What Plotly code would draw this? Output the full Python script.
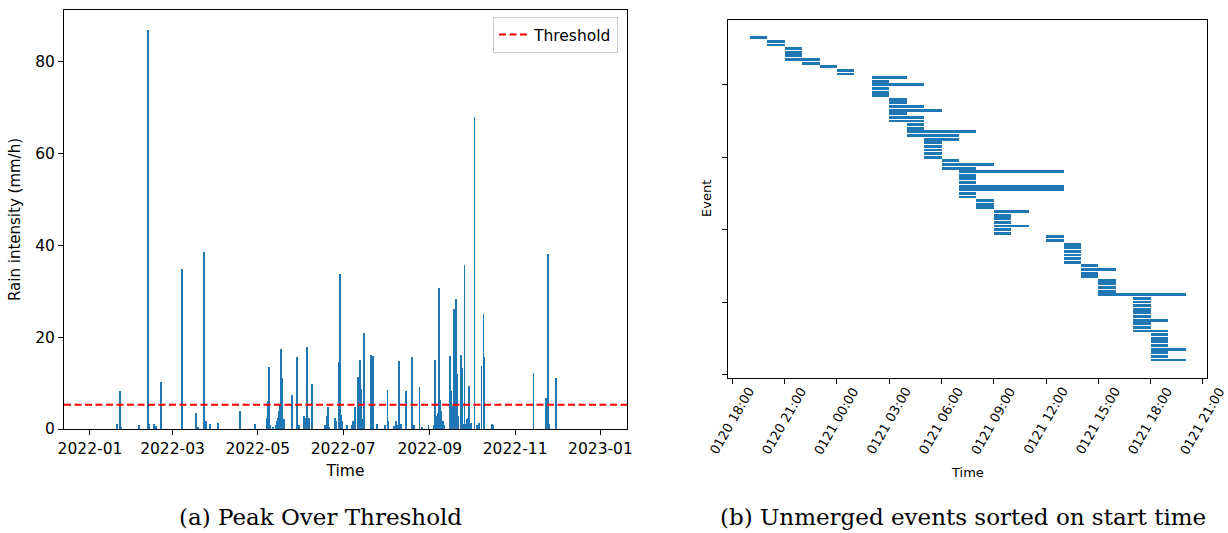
import pandas as pd
import plotly.graph_objects as go

# ---------------- (a) Peak Over Threshold ----------------
rain_times = [
    "2022-01-20 12:00", "2022-01-22 05:00", "2022-01-23 05:00", "2022-02-05 00:00",
    "2022-02-11 12:00", "2022-02-12 05:00", "2022-02-15 14:00", "2022-02-17 00:00",
    "2022-02-20 14:00", "2022-03-07 19:00", "2022-03-18 00:00", "2022-03-19 00:00",
    "2022-03-23 07:00", "2022-03-24 19:00", "2022-03-28 02:00", "2022-04-02 14:00",
    "2022-04-18 07:00", "2022-04-28 19:00", "2022-05-07 10:00", "2022-05-08 02:00",
    "2022-05-08 19:00", "2022-05-09 07:00", "2022-05-09 19:00", "2022-05-12 02:00",
    "2022-05-14 00:00", "2022-05-15 00:00", "2022-05-15 17:00", "2022-05-16 10:00",
    "2022-05-17 02:00", "2022-05-17 10:00", "2022-05-18 02:00", "2022-05-18 19:00",
    "2022-05-19 12:00", "2022-05-25 07:00", "2022-05-29 07:00", "2022-05-30 07:00",
    "2022-06-03 02:00", "2022-06-04 00:00", "2022-06-04 17:00", "2022-06-05 10:00",
    "2022-06-06 17:00", "2022-06-08 19:00", "2022-06-18 02:00", "2022-06-19 17:00",
    "2022-06-20 05:00", "2022-06-20 17:00", "2022-06-25 00:00", "2022-06-25 22:00",
    "2022-06-27 22:00", "2022-06-28 14:00", "2022-06-29 00:00", "2022-06-29 07:00",
    "2022-06-30 00:00", "2022-07-03 14:00", "2022-07-07 05:00", "2022-07-07 22:00",
    "2022-07-09 19:00", "2022-07-11 22:00", "2022-07-13 02:00", "2022-07-13 19:00",
    "2022-07-15 12:00", "2022-07-16 05:00", "2022-07-21 00:00", "2022-07-22 14:00",
    "2022-07-25 02:00", "2022-07-31 00:00", "2022-08-01 17:00", "2022-08-02 10:00",
    "2022-08-06 12:00", "2022-08-07 22:00", "2022-08-08 10:00", "2022-08-10 05:00",
    "2022-08-11 05:00", "2022-08-15 00:00", "2022-08-19 02:00", "2022-08-20 19:00",
    "2022-08-24 14:00", "2022-08-26 07:00", "2022-08-31 00:00", "2022-09-04 02:00",
    "2022-09-04 19:00", "2022-09-05 12:00", "2022-09-06 00:00", "2022-09-06 22:00",
    "2022-09-07 14:00", "2022-09-07 22:00", "2022-09-08 10:00", "2022-09-08 22:00",
    "2022-09-09 14:00", "2022-09-10 07:00", "2022-09-11 05:00", "2022-09-15 07:00",
    "2022-09-16 05:00", "2022-09-17 10:00", "2022-09-17 22:00", "2022-09-18 10:00",
    "2022-09-19 02:00", "2022-09-19 12:00", "2022-09-19 19:00", "2022-09-20 07:00",
    "2022-09-20 19:00", "2022-09-21 07:00", "2022-09-23 05:00", "2022-09-23 14:00",
    "2022-09-24 02:00", "2022-09-25 00:00", "2022-09-25 19:00", "2022-09-26 10:00",
    "2022-09-27 10:00", "2022-09-28 12:00", "2022-09-29 07:00", "2022-09-30 07:00",
    "2022-10-02 22:00", "2022-10-04 17:00", "2022-10-06 02:00", "2022-10-07 22:00",
    "2022-10-09 10:00", "2022-10-10 02:00", "2022-10-15 14:00", "2022-10-16 12:00",
    "2022-11-14 02:00", "2022-11-23 00:00", "2022-11-23 17:00", "2022-11-24 14:00",
    "2022-11-25 14:00", "2022-11-30 07:00",
]
rain_values = [
    1.1, 8.3, 0.5, 0.9,
    86.9, 1.1, 1.1, 0.6,
    10.2, 34.9, 3.5, 0.5,
    38.5, 1.7, 1.1, 1.4,
    4.0, 1.1, 2.3, 6.1,
    13.4, 2.0, 0.8, 0.5,
    0.8, 1.7, 2.4, 3.9,
    5.2, 17.5, 11.2, 1.7,
    2.1, 7.4, 15.6, 0.8,
    2.8, 2.1, 2.5, 17.8,
    2.5, 9.9, 0.8, 2.8,
    4.8, 0.5, 2.5, 1.7,
    14.6, 2.5, 33.8, 3.0,
    1.7, 0.8, 0.8, 1.7,
    4.8, 11.4, 15.1, 8.8,
    2.1, 20.8, 16.1, 15.8,
    1.0, 0.8, 8.5, 1.7,
    0.6, 1.7, 0.8, 14.8,
    1.0, 8.3, 15.6, 0.8,
    9.2, 0.5, 0.8, 0.8,
    15.1, 1.7, 2.8, 3.5,
    30.7, 2.1, 6.3, 4.0,
    1.0, 1.7, 0.8, 15.9,
    8.3, 5.0, 3.5, 26.1,
    17.4, 6.5, 28.2, 12.0,
    4.3, 2.8, 16.1, 2.1,
    13.2, 1.0, 35.6, 1.0,
    2.1, 2.5, 9.3, 1.4,
    68.0, 0.8, 1.4, 13.7,
    25.0, 15.6, 1.1, 0.8,
    12.1, 6.7, 3.2, 38.0,
    1.1, 11.0,
]
threshold = 5.3
left_x_range = ["2021-12-13 10:00", "2023-01-20 00:00"]
left_y_range = [0, 91.2]

# ---------------- (b) Unmerged events ----------------
event_starts = [
    "2022-01-20 19:00", "2022-01-20 20:00", "2022-01-20 20:00", "2022-01-20 21:00",
    "2022-01-20 21:00", "2022-01-20 21:00", "2022-01-20 21:00", "2022-01-20 22:00",
    "2022-01-20 23:00", "2022-01-21 00:00", "2022-01-21 00:00", "2022-01-21 02:00",
    "2022-01-21 02:00", "2022-01-21 02:00", "2022-01-21 02:00", "2022-01-21 02:00",
    "2022-01-21 02:00", "2022-01-21 03:00", "2022-01-21 03:00", "2022-01-21 03:00",
    "2022-01-21 03:00", "2022-01-21 03:00", "2022-01-21 03:00", "2022-01-21 03:00",
    "2022-01-21 04:00", "2022-01-21 04:00", "2022-01-21 04:00", "2022-01-21 04:00",
    "2022-01-21 05:00", "2022-01-21 05:00", "2022-01-21 05:00", "2022-01-21 05:00",
    "2022-01-21 05:00", "2022-01-21 05:00", "2022-01-21 06:00", "2022-01-21 06:00",
    "2022-01-21 06:00", "2022-01-21 07:00", "2022-01-21 07:00", "2022-01-21 07:00",
    "2022-01-21 07:00", "2022-01-21 07:00", "2022-01-21 07:00", "2022-01-21 07:00",
    "2022-01-21 07:00", "2022-01-21 08:00", "2022-01-21 08:00", "2022-01-21 08:00",
    "2022-01-21 09:00", "2022-01-21 09:00", "2022-01-21 09:00", "2022-01-21 09:00",
    "2022-01-21 09:00", "2022-01-21 09:00", "2022-01-21 09:00", "2022-01-21 12:00",
    "2022-01-21 12:00", "2022-01-21 13:00", "2022-01-21 13:00", "2022-01-21 13:00",
    "2022-01-21 13:00", "2022-01-21 13:00", "2022-01-21 13:00", "2022-01-21 14:00",
    "2022-01-21 14:00", "2022-01-21 14:00", "2022-01-21 14:00", "2022-01-21 15:00",
    "2022-01-21 15:00", "2022-01-21 15:00", "2022-01-21 15:00", "2022-01-21 15:00",
    "2022-01-21 17:00", "2022-01-21 17:00", "2022-01-21 17:00", "2022-01-21 17:00",
    "2022-01-21 17:00", "2022-01-21 17:00", "2022-01-21 17:00", "2022-01-21 17:00",
    "2022-01-21 17:00", "2022-01-21 17:00", "2022-01-21 18:00", "2022-01-21 18:00",
    "2022-01-21 18:00", "2022-01-21 18:00", "2022-01-21 18:00", "2022-01-21 18:00",
    "2022-01-21 18:00", "2022-01-21 18:00",
]
event_ends = [
    "2022-01-20 20:00", "2022-01-20 21:00", "2022-01-20 21:00", "2022-01-20 22:00",
    "2022-01-20 22:00", "2022-01-20 22:00", "2022-01-20 23:00", "2022-01-20 23:00",
    "2022-01-21 00:00", "2022-01-21 01:00", "2022-01-21 01:00", "2022-01-21 04:00",
    "2022-01-21 03:00", "2022-01-21 05:00", "2022-01-21 03:00", "2022-01-21 03:00",
    "2022-01-21 03:00", "2022-01-21 04:00", "2022-01-21 04:00", "2022-01-21 05:00",
    "2022-01-21 06:00", "2022-01-21 04:00", "2022-01-21 05:00", "2022-01-21 05:00",
    "2022-01-21 05:00", "2022-01-21 05:00", "2022-01-21 08:00", "2022-01-21 07:00",
    "2022-01-21 07:00", "2022-01-21 06:00", "2022-01-21 06:00", "2022-01-21 06:00",
    "2022-01-21 06:00", "2022-01-21 06:00", "2022-01-21 07:00", "2022-01-21 09:00",
    "2022-01-21 08:00", "2022-01-21 13:00", "2022-01-21 08:00", "2022-01-21 08:00",
    "2022-01-21 08:00", "2022-01-21 13:00", "2022-01-21 13:00", "2022-01-21 08:00",
    "2022-01-21 08:00", "2022-01-21 09:00", "2022-01-21 09:00", "2022-01-21 09:00",
    "2022-01-21 11:00", "2022-01-21 10:00", "2022-01-21 10:00", "2022-01-21 10:00",
    "2022-01-21 11:00", "2022-01-21 10:00", "2022-01-21 10:00", "2022-01-21 13:00",
    "2022-01-21 13:00", "2022-01-21 14:00", "2022-01-21 14:00", "2022-01-21 14:00",
    "2022-01-21 14:00", "2022-01-21 14:00", "2022-01-21 14:00", "2022-01-21 15:00",
    "2022-01-21 16:00", "2022-01-21 15:00", "2022-01-21 15:00", "2022-01-21 16:00",
    "2022-01-21 16:00", "2022-01-21 16:00", "2022-01-21 16:00", "2022-01-21 20:00",
    "2022-01-21 18:00", "2022-01-21 18:00", "2022-01-21 18:00", "2022-01-21 18:00",
    "2022-01-21 18:00", "2022-01-21 18:00", "2022-01-21 19:00", "2022-01-21 18:00",
    "2022-01-21 18:00", "2022-01-21 19:00", "2022-01-21 19:00", "2022-01-21 19:00",
    "2022-01-21 19:00", "2022-01-21 19:00", "2022-01-21 20:00", "2022-01-21 19:00",
    "2022-01-21 19:00", "2022-01-21 20:00",
]
event_ids = list(range(47, 47 + len(event_starts)))
right_x_range = ["2022-01-20 17:45", "2022-01-21 21:15"]
right_y_range = [140.9, 42.1]
right_tick_start = "2022-01-20 18:00"
right_tick_end = "2022-01-21 21:00"

# ---------------- figure ----------------
W, H = 1228, 533
BLUE = "#1f77b4"
FONT = "DejaVu Sans"


def px_x(p):
    return p / W


def px_y(p):
    return 1 - p / H


durations_ms = [
    (pd.Timestamp(e) - pd.Timestamp(s)).total_seconds() * 1000.0
    for s, e in zip(event_starts, event_ends)
]

fig = go.Figure()

fig.add_trace(go.Bar(
    x=rain_times, y=rain_values,
    width=0.6 * 86400000,
    marker=dict(color=BLUE, line=dict(width=0)),
    showlegend=False, xaxis="x", yaxis="y",
))
fig.add_trace(go.Scatter(
    x=left_x_range, y=[threshold, threshold],
    mode="lines", name="Threshold",
    line=dict(color="red", dash="7px,3.5px", width=2),
    xaxis="x", yaxis="y",
))
fig.add_trace(go.Bar(
    y=event_ids, x=durations_ms, base=event_starts,
    orientation="h", width=0.8,
    marker=dict(color=BLUE, line=dict(width=0)),
    showlegend=False, xaxis="x2", yaxis="y2",
))

axis_common = dict(
    showline=True, mirror=True, linecolor="black", linewidth=1,
    ticks="outside", ticklen=5, tickwidth=1, tickcolor="black",
    showgrid=False, zeroline=False, automargin=False,
)

tick_times = pd.date_range(right_tick_start, right_tick_end, freq="3h")

fig.update_layout(
    width=W, height=H,
    margin=dict(l=0, r=0, t=0, b=0, autoexpand=False),
    paper_bgcolor="white", plot_bgcolor="white",
    font=dict(family=FONT, color="black", size=15),
    bargap=0,
    xaxis=dict(
        domain=[px_x(64), px_x(627)], anchor="y", type="date",
        range=left_x_range, dtick="M2", tick0="2022-01-01",
        tickformat="%Y-%m", tickfont=dict(size=15.5),
        title=dict(text="Time", font=dict(size=15.5), standoff=8),
        **axis_common,
    ),
    yaxis=dict(
        domain=[px_y(429), px_y(10)], anchor="x",
        range=left_y_range, dtick=20, tick0=0,
        tickfont=dict(size=15.5),
        title=dict(text="Rain intensity (mm/h)", font=dict(size=15), standoff=10),
        **axis_common,
    ),
    xaxis2=dict(
        domain=[px_x(728), px_x(1207.3)], anchor="y2", type="date",
        range=right_x_range, tickvals=list(tick_times),
        showticklabels=False,
        **axis_common,
    ),
    yaxis2=dict(
        domain=[px_y(377.7), px_y(20)], anchor="x2",
        range=right_y_range, dtick=20, tick0=0,
        showticklabels=False,
        **axis_common,
    ),
    legend=dict(
        x=px_x(618), y=px_y(17), xanchor="right", yanchor="top",
        bgcolor="white", bordercolor="#cccccc", borderwidth=1,
        font=dict(size=15.5), itemwidth=30,
    ),
)

annotations = []
for t in tick_times:
    annotations.append(dict(
        x=t, xref="x2", y=px_y(382), yref="paper",
        text=t.strftime("%m%d %H:%M"), textangle=-60,
        xanchor="center", yanchor="top", showarrow=False,
        font=dict(size=13, family=FONT),
    ))
annotations.append(dict(
    x=px_x(967), y=px_y(472), xref="paper", yref="paper",
    text="Time", showarrow=False, xanchor="center", yanchor="middle",
    font=dict(size=13, family=FONT),
))
annotations.append(dict(
    x=px_x(706), y=px_y(199), xref="paper", yref="paper",
    text="Event", showarrow=False, xanchor="center", yanchor="middle",
    textangle=-90, font=dict(size=13, family=FONT),
))
annotations.append(dict(
    x=px_x(320), y=px_y(517), xref="paper", yref="paper",
    text="(a) Peak Over Threshold", showarrow=False,
    xanchor="center", yanchor="middle",
    font=dict(size=23, family="DejaVu Serif"),
))
annotations.append(dict(
    x=px_x(963), y=px_y(517), xref="paper", yref="paper",
    text="(b) Unmerged events sorted on start time", showarrow=False,
    xanchor="center", yanchor="middle",
    font=dict(size=23, family="DejaVu Serif"),
))
fig.update_layout(annotations=annotations)

fig.write_html(
    "out.html",
    config={"displayModeBar": False},
    post_script="document.body.style.margin='0';document.body.style.padding='0';",
)
